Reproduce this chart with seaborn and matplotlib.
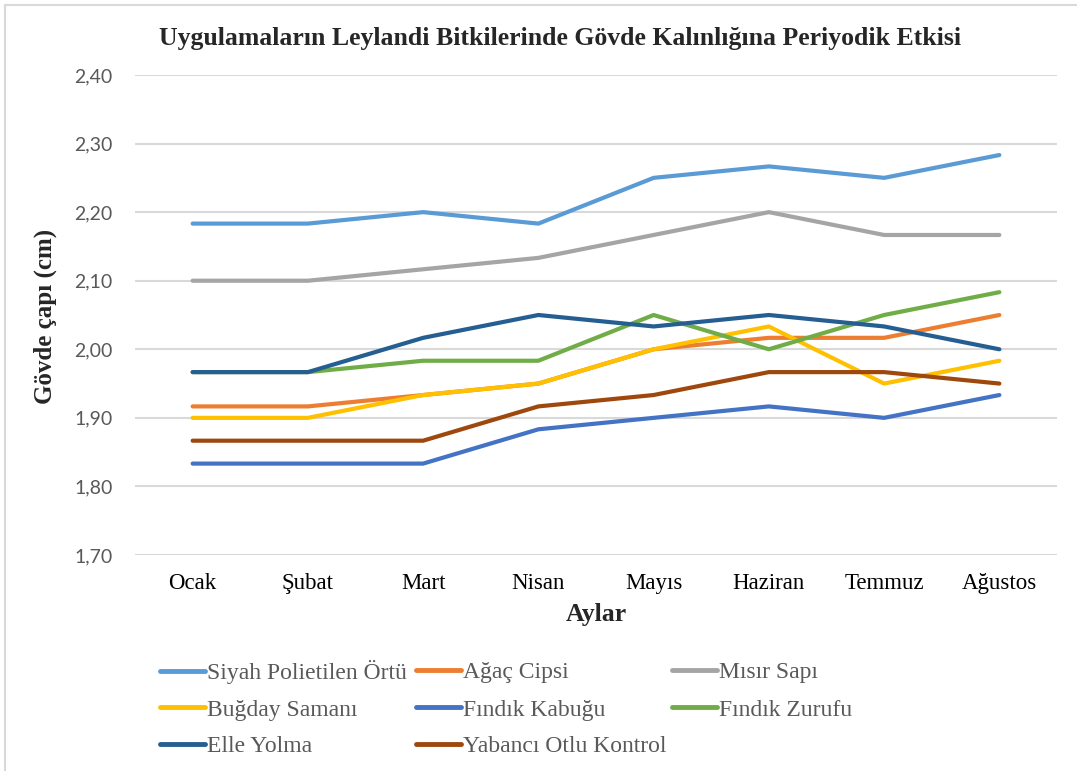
import numpy as np
import pandas as pd
import matplotlib
matplotlib.use("Agg")
import matplotlib.pyplot as plt
from matplotlib.lines import Line2D
import seaborn as sns

months = ["Ocak", "Şubat", "Mart", "Nisan", "Mayıs", "Haziran", "Temmuz", "Ağustos"]

siyah_polietilen = [2.1833, 2.1833, 2.2000, 2.1833, 2.2500, 2.2667, 2.2500, 2.2833]
agac_cipsi       = [1.9167, 1.9167, 1.9333, 1.9500, 2.0000, 2.0167, 2.0167, 2.0500]
misir_sapi       = [2.1000, 2.1000, 2.1167, 2.1333, 2.1667, 2.2000, 2.1667, 2.1667]
bugday_samani    = [1.9000, 1.9000, 1.9333, 1.9500, 2.0000, 2.0333, 1.9500, 1.9833]
findik_kabugu    = [1.8333, 1.8333, 1.8333, 1.8833, 1.9000, 1.9167, 1.9000, 1.9333]
findik_zurufu    = [1.9667, 1.9667, 1.9833, 1.9833, 2.0500, 2.0000, 2.0500, 2.0833]
elle_yolma       = [1.9667, 1.9667, 2.0167, 2.0500, 2.0333, 2.0500, 2.0333, 2.0000]
yabanci_otlu     = [1.8667, 1.8667, 1.8667, 1.9167, 1.9333, 1.9667, 1.9667, 1.9500]

series_names = ["Siyah Polietilen Örtü", "Ağaç Cipsi", "Mısır Sapı", "Buğday Samanı",
                "Fındık Kabuğu", "Fındık Zurufu", "Elle Yolma", "Yabancı Otlu Kontrol"]
series_values = [siyah_polietilen, agac_cipsi, misir_sapi, bugday_samani,
                 findik_kabugu, findik_zurufu, elle_yolma, yabanci_otlu]
colors = ["#5B9BD5", "#ED7D31", "#A5A5A5", "#FFC000",
          "#4472C4", "#70AD47", "#255E91", "#9E480E"]

y_ticks = [1.70, 1.80, 1.90, 2.00, 2.10, 2.20, 2.30, 2.40]

rows = []
for name, vals in zip(series_names, series_values):
    for i, v in enumerate(vals):
        rows.append({"Ay": i, "Seri": name, "Değer": v})
df = pd.DataFrame(rows)

sns.set_theme(style="white")
plt.rcParams["font.family"] = ["Liberation Serif", "DejaVu Serif"]

fig = plt.figure(figsize=(10.77, 7.71), dpi=100)
ax = fig.add_axes([135/1077, 1-555/771, (1057-135)/1077, (555-75)/771])

sns.lineplot(data=df, x="Ay", y="Değer", hue="Seri", hue_order=series_names,
             palette=dict(zip(series_names, colors)), linewidth=3.0,
             legend=False, ax=ax, solid_capstyle="round")

ax.set_xlim(-0.5, 7.5)
ax.set_ylim(1.70, 2.40)
ax.set_yticks(y_ticks)
ax.set_yticklabels([f"{t:.2f}".replace(".", ",") for t in y_ticks],
                   fontfamily="Lato", fontsize=14, color="#595959")
ax.set_xticks(range(len(months)))
ax.set_xticklabels(months, fontsize=16.5, color="black")
ax.tick_params(axis="both", length=0)
ax.tick_params(axis="y", pad=16)
ax.tick_params(axis="x", pad=13)
ax.grid(axis="y", color="#D9D9D9", linewidth=1.5)
ax.grid(axis="x", visible=False)
ax.set_axisbelow(True)
for s in ax.spines.values():
    s.set_visible(False)

ax.set_xlabel("")
ax.set_ylabel("")
fig.text(560/1077, 1-39/771, "Uygulamaların Leylandi Bitkilerinde Gövde Kalınlığına Periyodik Etkisi",
         ha="center", va="center", fontsize=18.5, fontweight="bold")
fig.text(45/1077, 1-316/771, "Gövde çapı (cm)", rotation=90, ha="center", va="center",
         fontsize=18, fontweight="bold")
fig.text(596/1077, 1-614/771, "Aylar", ha="center", va="center",
         fontsize=18.5, fontweight="bold")

# outer frame (left and top edges visible)
fig.add_artist(Line2D([5/1077, 5/1077], [0, 1-5/771], transform=fig.transFigure,
                      color="#D9D9D9", linewidth=1.5))
fig.add_artist(Line2D([5/1077, 1], [1-5/771, 1-5/771], transform=fig.transFigure,
                      color="#D9D9D9", linewidth=1.5))

# legend: entries placed in a 3-column grid, row-major order
col_x = [160/1077, 416/1077, 672/1077]
row_y = [1-672/771, 1-710/771, 1-746/771]
for k, (name, col) in enumerate(zip(series_names, colors)):
    r, c = divmod(k, 3)
    h = Line2D([0], [0], color=col, linewidth=3.5)
    leg = fig.legend([h], [name], loc="center left", bbox_to_anchor=(col_x[c], row_y[r]),
                     frameon=False, prop={"family": ["Liberation Serif", "DejaVu Serif"], "size": 17},
                     handlelength=1.9, handletextpad=0.1, borderaxespad=0, borderpad=0)
    for t in leg.get_texts():
        t.set_color("#595959")

fig.savefig("out.png", dpi=100, facecolor="white")
